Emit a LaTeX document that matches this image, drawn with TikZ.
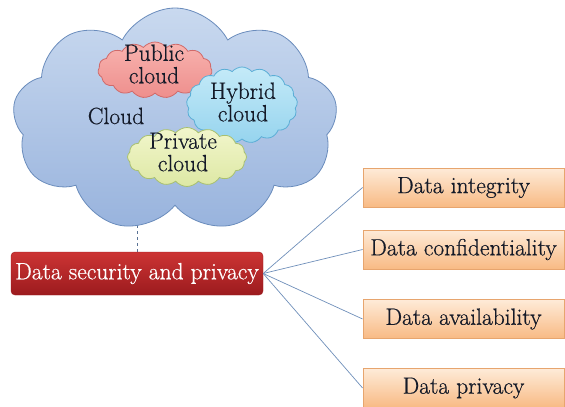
\documentclass[tikz,border=0pt]{standalone}
\usepackage{fontspec}
\newfontfamily\heavyrm{Latin Modern Roman}[FakeBold=0.6]
\usetikzlibrary{shapes.symbols,backgrounds}
\definecolor{cloudedge}{HTML}{6A8CBC}
\definecolor{cloudtop}{HTML}{C9D9EF}
\definecolor{cloudbot}{HTML}{98B3DD}
\definecolor{pubedge}{HTML}{D06A6A}
\definecolor{pubtop}{HTML}{F8B4B0}
\definecolor{pubbot}{HTML}{EE8E8C}
\definecolor{hybedge}{HTML}{5BAED6}
\definecolor{hybtop}{HTML}{C4EAF8}
\definecolor{hybbot}{HTML}{96D4EE}
\definecolor{priedge}{HTML}{A8C070}
\definecolor{pritop}{HTML}{F2F6CC}
\definecolor{pribot}{HTML}{DDE8A4}
\definecolor{redtop}{HTML}{CC3434}
\definecolor{redbot}{HTML}{9C1B1E}
\definecolor{orgtop}{HTML}{FEEBD8}
\definecolor{orgbot}{HTML}{F8BA84}
\definecolor{orgedge}{HTML}{E7A56E}
\definecolor{linkcol}{HTML}{6F8FBA}
\definecolor{txtcol}{HTML}{141A28}
\begin{document}
\begin{tikzpicture}[x=1pt,y=-1pt,
  bigfont/.style={font=\heavyrm\fontsize{23.5}{22.5}\selectfont},
  txt/.style={bigfont, align=center, inner sep=0pt, text=txtcol},
  cloudbase/.style={cloud, cloud ignores aspect, draw, inner sep=0pt, line width=0.8pt},
  orgbox/.style={draw=orgedge, line width=0.8pt, top color=orgtop, bottom color=orgbot,
     minimum width=201pt, minimum height=39pt, inner sep=0pt, bigfont, text=txtcol},
  link/.style={draw=linkcol, line width=0.7pt}]
\useasboundingbox (0,0) rectangle (565,407);
% main cloud
\node[cloudbase, cloud puffs=9, cloud puff arc=125, draw=cloudedge,
      top color=cloudtop, bottom color=cloudbot,
      minimum width=325pt, minimum height=224pt] (main) at (175,120) {};
\node[cloudbase, cloud puffs=15, cloud puff arc=100, draw=pubedge,
      top color=pubtop, bottom color=pubbot,
      minimum width=114pt, minimum height=56pt] (pub) at (155,70) {};
\node[cloudbase, cloud puffs=17, cloud puff arc=100, draw=hybedge,
      top color=hybtop, bottom color=hybbot,
      minimum width=111pt, minimum height=76pt] (hyb) at (242,105) {};
\node[cloudbase, cloud puffs=16, cloud puff arc=100, draw=priedge,
      top color=pritop, bottom color=pribot,
      minimum width=119pt, minimum height=59pt] (pri) at (187,157) {};
\node[txt] (publbl) at (154,64) {Public\\cloud};
\node[txt] (hyblbl) at (243,102) {Hybrid\\cloud};
\node[txt] (pritxt) at (183,152) {Private\\cloud};
\node[txt] (cloudlbl) at (116,116) {Cloud};
% red box
\node[rounded corners=4pt, draw=redbot, top color=redtop, bottom color=redbot,
      minimum width=252pt, minimum height=43pt, inner sep=0pt,
      bigfont, text=white] (sec) at (137,273.5)
      {Data security and privacy};
\begin{scope}[on background layer]
\draw[dashed, draw=linkcol!80!black, line width=0.7pt] (sec.north) -- (sec.north |- main.center);
\end{scope}
% orange boxes
\node[orgbox] (integ) at (463.5,187.5) {Data integrity};
\node[orgbox] (conf) at (463.5,249.5) {Data confidentiality};
\node[orgbox] (avail) at (463.5,319) {Data availability};
\node[orgbox] (priv) at (463.5,388) {Data privacy};
\foreach \b in {integ,conf,avail,priv}
  \draw[link] (sec.east) -- (\b.west);
\end{tikzpicture}
\end{document}
